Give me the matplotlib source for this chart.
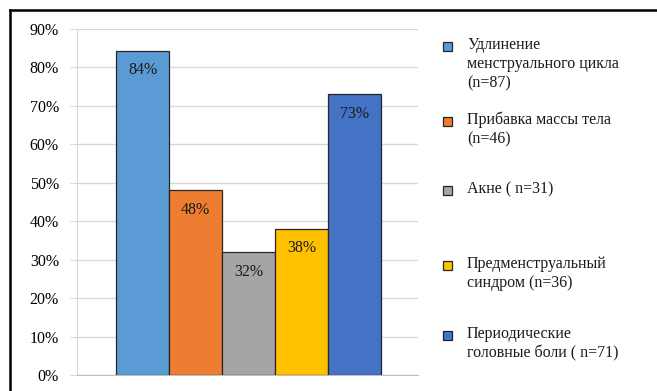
import matplotlib
matplotlib.use("Agg")
import matplotlib.pyplot as plt
from matplotlib.patches import Rectangle
from matplotlib.lines import Line2D

categories = ["Удлинение\nменструального цикла\n(n=87)",
              "Прибавка массы тела\n(n=46)",
              "Акне ( n=31)",
              "Предменструальный\nсиндром (n=36)",
              "Периодические\nголовные боли ( n=71)"]
values = [84.3, 48, 32, 38, 73]
labels = ["84%", "48%", "32%", "38%", "73%"]
colors = ["#5B9BD5", "#ED7D31", "#A5A5A5", "#FFC000", "#4472C4"]
yticks = [0, 10, 20, 30, 40, 50, 60, 70, 80, 90]

plt.rcParams['font.family'] = ['Liberation Serif', 'DejaVu Serif']

W, H = 657, 391
fig = plt.figure(figsize=(W / 100, H / 100), dpi=100)
ax = fig.add_axes([77 / W, 16 / H, (418 - 77) / W, (375 - 29) / H])

x = list(range(len(values)))
bars = ax.bar(x, values, width=1.0, color=colors, edgecolor="#262626", linewidth=0.9, zorder=3)
for xi, v, lab in zip(x, values, labels):
    ax.text(xi, v - 3.0, lab, ha="center", va="top", fontsize=11.5, color="#1a1a1a", zorder=4)

ax.set_ylim(0, 90)
ax.set_xlim(-1.24, 5.2)
ax.set_yticks(yticks)
ax.set_yticklabels([f"{t}%" for t in yticks], fontsize=11.5)
ax.set_xticks([])
ax.grid(axis="y", color="#D9D9D9", linewidth=1.0, zorder=0)
for s in ["top", "right"]:
    ax.spines[s].set_visible(False)
ax.spines["left"].set_color("#D9D9D9")
ax.spines["bottom"].set_color("#BFBFBF")
ax.tick_params(axis="y", length=5, color="#D9D9D9", pad=8)

# manual legend
leg_y = [46, 121, 190, 265, 335]
for c, txt, yy in zip(colors, categories, leg_y):
    fig.patches.append(Rectangle((443 / W, 1 - (yy + 5) / H), 9 / W, 9 / H,
                                 transform=fig.transFigure, facecolor=c,
                                 edgecolor="#262626", linewidth=0.9))
    fig.text(467 / W, 1 - (yy - 9) / H, txt, ha="left", va="top", fontsize=11.5,
             linespacing=1.25, color="#1a1a1a")

# outer frame
fig.add_artist(Line2D([10 / W, 10 / W], [0, 1 - 10 / H], transform=fig.transFigure,
                      color="black", linewidth=1.8))
fig.add_artist(Line2D([10 / W, 1], [1 - 10 / H, 1 - 10 / H], transform=fig.transFigure,
                      color="black", linewidth=1.8))

fig.savefig("out.png", dpi=100)
